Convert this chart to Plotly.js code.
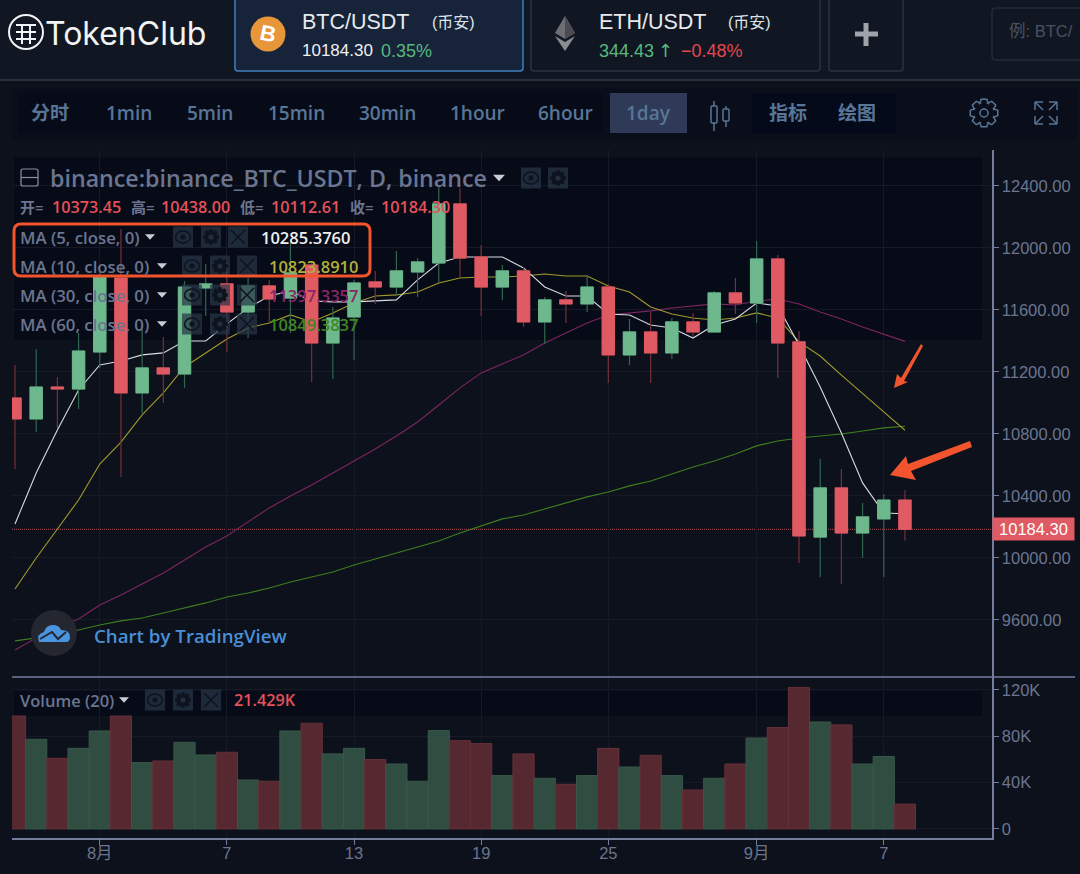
<!DOCTYPE html>
<html>
<head>
<meta charset="utf-8">
<script src="https://cdn.plot.ly/plotly-3.0.1.min.js"></script>
<style>
html, body { margin: 0; padding: 0; background: #0c111b; overflow: hidden; }
#chart { width: 1080px; height: 874px; }
</style>
</head>
<body>
<div id="chart"></div>
<script>
var dates = ["2020-07-28", "2020-07-29", "2020-07-30", "2020-07-31",
    "2020-08-01", "2020-08-02", "2020-08-03", "2020-08-04", "2020-08-05", "2020-08-06", "2020-08-07",
    "2020-08-08", "2020-08-09", "2020-08-10", "2020-08-11", "2020-08-12", "2020-08-13", "2020-08-14",
    "2020-08-15", "2020-08-16", "2020-08-17", "2020-08-18", "2020-08-19", "2020-08-20", "2020-08-21",
    "2020-08-22", "2020-08-23", "2020-08-24", "2020-08-25", "2020-08-26", "2020-08-27", "2020-08-28",
    "2020-08-29", "2020-08-30", "2020-08-31",
    "2020-09-01", "2020-09-02", "2020-09-03", "2020-09-04", "2020-09-05", "2020-09-06", "2020-09-07", "2020-09-08"]
var opens = [11032, 10897, 11103, 11090, 11329, 11806, 11065, 11226, 11187, 11742, 11768, 11587, 11755, 11677, 11890,
    11387, 11555, 11781, 11748, 11845, 11903, 12284, 11942, 11748, 11852, 11523, 11665, 11639, 11748, 11310, 11458,
    11323, 11523, 11458, 11710, 11645, 11929, 11394, 10135, 10452, 10161, 10252, 10373.45]
var highs = [11245, 11348, 11168, 11452, 11845, 12123, 11477, 11426, 11787, 11897, 11910, 11806, 11794, 12032, 11910,
    11619, 11794, 11852, 11981, 11935, 12394, 12387, 12019, 11890, 11877, 11684, 11723, 11826, 11768, 11542, 11587,
    11548, 11581, 11723, 11806, 12045, 11955, 11465, 10639, 10574, 10355, 10413, 10438]
var lows = [10574, 10813, 10839, 10961, 11226, 10523, 10935, 11000, 11097, 11561, 11329, 11419, 11523, 11452, 11135,
    11155, 11277, 11639, 11697, 11684, 11781, 11813, 11561, 11665, 11490, 11381, 11516, 11587, 11129, 11245, 11129,
    11284, 11426, 11455, 11574, 11516, 11161, 9968, 9877, 9832, 10000, 9877, 10112.61]
var closes = [10897, 11103, 11090, 11335, 11813, 11065, 11226, 11187, 11748, 11768, 11587, 11755, 11671, 11839, 11387,
    11548, 11774, 11748, 11852, 11910, 12284, 11935, 11748, 11852, 11523, 11665, 11639, 11748, 11310, 11458, 11323,
    11523, 11458, 11710, 11645, 11929, 11387, 10142, 10452, 10161, 10265, 10373.45, 10184.30]
var ma5 = [10219, 10548, 10826, 11084, 11245, 11271, 11310, 11323, 11400, 11400, 11510, 11613, 11690, 11723, 11658,
    11652, 11652, 11658, 11665, 11794, 11903, 11942, 11942, 11942, 11871, 11748, 11690, 11690, 11574, 11568, 11503,
    11484, 11419, 11503, 11542, 11645, 11626, 11374, 11103, 10806, 10484, 10290, 10285.376]
var ma10 = [9800, 10000, 10187, 10374, 10606, 10748, 10923, 11065, 11232, 11323, 11413, 11484, 11516, 11568, 11523,
    11581, 11645, 11690, 11697, 11716, 11774, 11806, 11813, 11813, 11819, 11832, 11819, 11819, 11755, 11716, 11619,
    11574, 11548, 11535, 11548, 11581, 11548, 11394, 11303, 11180, 11058, 10942, 10823.891]
var ma30 = [9406, 9484, 9548, 9606, 9697, 9761, 9832, 9903, 9987, 10071, 10142, 10232, 10323, 10400, 10471,
    10548, 10626, 10703, 10787, 10877, 10987, 11097, 11194, 11252, 11310, 11387, 11452, 11516, 11568, 11581, 11594,
    11613, 11626, 11639, 11632, 11658, 11671, 11639, 11587, 11542, 11490, 11445, 11397.3357]
var ma60 = [9465, 9484, 9503, 9535, 9568, 9594, 9613, 9645, 9677, 9710, 9748, 9774, 9806, 9845, 9877,
    9910, 9955, 9994, 10032, 10071, 10110, 10161, 10206, 10252, 10277, 10316, 10355, 10394, 10426, 10465, 10497,
    10542, 10587, 10626, 10671, 10723, 10755, 10774, 10787, 10800, 10819, 10839, 10849.3837]
var volumes = [97.4, 77.3, 60.9, 69.5, 84.5, 97.4, 57.2, 58.6, 74.7, 63.8, 66.1, 42.2, 41.1, 84.5, 91.1,
    64.7, 69.5, 59.8, 56, 41.1, 84.8, 76.1, 73.6, 46, 64.7, 43.7, 38.5, 46, 69.5, 53.4, 63.5,
    46, 33.6, 43.7, 56, 78.4, 87.4, 122, 92.2, 89.7, 56, 62.4, 21.429]

var dayTicks = ["2020-08-01", "2020-08-07", "2020-08-13", "2020-08-19", "2020-08-25", "2020-09-01", "2020-09-07"]
var dayLabels = ["8月", "7", "13", "19", "25", "9月", "7"]
var priceTicks = [9600, 10000, 10400, 10800, 11200, 11600, 12000, 12400]
var volumeTicks = [0, 40, 80, 120]
var volumeLabels = ["0", "40K", "80K", "120K"]

var intervals = ["分时", "1min", "5min", "15min", "30min", "1hour", "6hour", "1day"]
var intervalCentres = [50, 129, 210, 296, 387, 477, 565, 648]

var W = 1080, H = 874
var UP = "#6db88d", DOWN = "#e05a64"
var UP_WICK = "#2f6650", DOWN_WICK = "#77303a"
var MUTED = "#6b7590", TOOL = "#587697"
var GRID = "#151a26", AXIS = "#747d9e"
var BUTTON = "#222f3d", GLYPH = "#0d141f"
var SANS = "Liberation Sans, Noto Sans CJK SC, sans-serif"
var SOFT = "Open Sans, Noto Sans CJK SC, sans-serif"

function X(v) { return v / W }
function Y(v) { return 1 - v / H }

function pathOf(cmds) {
    return cmds.map(function (c) {
        var out = c[0]
        for (var i = 1; i < c.length; i += 2) {
            out += " " + X(c[i]).toFixed(5) + " " + Y(c[i + 1]).toFixed(5)
        }
        return out
    }).join(" ")
}

function polygon(points, fill, line) {
    var cmds = points.map(function (p, i) { return [i === 0 ? "M" : "L", p[0], p[1]] })
    cmds.push(["Z"])
    return shapeFromPath(pathOf(cmds), fill, line)
}

function shapeFromPath(path, fill, line, width, layer) {
    return {
        type: "path", xref: "paper", yref: "paper", path: path,
        fillcolor: fill || "rgba(0,0,0,0)",
        line: { color: line || "rgba(0,0,0,0)", width: line ? (width || 1) : 0 },
        layer: layer || "above",
    }
}

function rect(x0, y0, x1, y1, fill, layer) {
    return {
        type: "rect", xref: "paper", yref: "paper",
        x0: X(x0), x1: X(x1), y0: Y(y0), y1: Y(y1),
        fillcolor: fill, line: { width: 0 }, layer: layer || "above",
    }
}

function roundRect(x0, y0, x1, y1, r, fill, line, width, layer) {
    return shapeFromPath(pathOf([
        ["M", x0 + r, y0], ["L", x1 - r, y0], ["Q", x1, y0, x1, y0 + r],
        ["L", x1, y1 - r], ["Q", x1, y1, x1 - r, y1],
        ["L", x0 + r, y1], ["Q", x0, y1, x0, y1 - r],
        ["L", x0, y0 + r], ["Q", x0, y0, x0 + r, y0], ["Z"],
    ]), fill, line, width, layer)
}

function circle(cx, cy, rx, ry, fill, line, width) {
    return {
        type: "circle", xref: "paper", yref: "paper",
        x0: X(cx - rx), x1: X(cx + rx), y0: Y(cy - ry), y1: Y(cy + ry),
        fillcolor: fill || "rgba(0,0,0,0)",
        line: { color: line || "rgba(0,0,0,0)", width: line ? (width || 1) : 0 },
        layer: "above",
    }
}

function seg(x0, y0, x1, y1, color, width) {
    return {
        type: "line", xref: "paper", yref: "paper",
        x0: X(x0), x1: X(x1), y0: Y(y0), y1: Y(y1),
        line: { color: color, width: width || 1 }, layer: "above",
    }
}

function label(text, x, y, size, color, family, anchor, angle, weight) {
    return {
        text: text, xref: "paper", yref: "paper", x: X(x), y: Y(y),
        xanchor: anchor || "left", yanchor: "middle", showarrow: false, borderpad: 0,
        textangle: angle || 0,
        font: { size: size, color: color, family: family || SANS, weight: weight || 400 },
    }
}

// text of the toolbar and legends is a little heavier than regular
function softLabel(text, x, y, size, color, anchor) {
    return label(text, x, y, size, color, SOFT, anchor, 0, 600)
}

// outline of the settings gear, eight teeth
function gearPath(cx, cy, rOut, rIn) {
    var cmds = []
    for (var i = 0; i < 8; i++) {
        var a = i * Math.PI / 4 - Math.PI / 2
        var step = 0.2
        var pts = [[rIn, a - 2 * step], [rOut, a - step], [rOut, a + step], [rIn, a + 2 * step]]
        pts.forEach(function (p, j) {
            cmds.push([(i === 0 && j === 0) ? "M" : "L", cx + p[0] * Math.cos(p[1]), cy + p[0] * Math.sin(p[1])])
        })
    }
    cmds.push(["Z"])
    return pathOf(cmds)
}

var shapes = [], notes = []

// page bands
shapes.push(rect(0, 0, W, 79, "#111722", "below"))
shapes.push(rect(0, 79, W, 81, "#2b303d", "below"))
shapes.push(rect(12, 88, 1077, 140, "#0a0e1a", "below"))
shapes.push(rect(14, 157, 982, 340, "#060b17", "below"))
shapes.push(rect(14, 691, 982, 716, "#060b17", "below"))

// logo
shapes.push(circle(26, 32, 17, 17, null, "#f2f3f5", 2))
shapes.push(seg(16, 25, 36, 25, "#f2f3f5", 2))
shapes.push(seg(16, 32, 36, 32, "#f2f3f5", 2))
shapes.push(seg(16, 39, 36, 39, "#f2f3f5", 2))
shapes.push(seg(22, 25, 22, 44, "#f2f3f5", 2))
shapes.push(seg(30, 25, 30, 44, "#f2f3f5", 2))
notes.push(label("TokenClub", 44, 33, 32, "#f2f3f5", "Inter, " + SANS))

// BTC tab
shapes.push(roundRect(235, -6, 523, 71, 3, "#172338", "#3f7fc0", 1.5))
shapes.push(circle(268, 34, 17.5, 17.5, "#e8963a"))
notes.push(label("<b>B</b>", 268, 34, 22, "#fff", SANS, "center", 12))
notes.push(label("BTC/USDT", 301, 22, 21.5, "#e6e9ee"))
notes.push(label("(币安)", 431, 23, 16, "#dfe3e9"))
notes.push(label("10184.30", 301, 51, 17, "#eef0f3"))
notes.push(label("0.35%", 380, 51, 18, "#56b97f"))

// ETH tab
shapes.push(roundRect(531, -6, 820, 71, 3, "#111722", "#2c323f", 1.5))
shapes.push(polygon([[565, 16], [575, 33], [565, 39], [555, 33]], "#6c6e74"))
shapes.push(polygon([[565, 16], [575, 33], [565, 39]], "#4a4c52"))
shapes.push(polygon([[555, 36], [565, 42], [575, 36], [565, 51]], "#8a8c91"))
notes.push(label("ETH/USDT", 598, 22, 21.5, "#e6e9ee"))
notes.push(label("(币安)", 727, 23, 16, "#dfe3e9"))
notes.push(label("344.43", 598, 51, 18, "#56b97f"))
notes.push(label("↑", 657, 51, 18, "#56b97f", "DejaVu Sans"))
notes.push(label("−0.48%", 680, 51, 18, "#e2474f"))

// plus tab and search box
shapes.push(roundRect(829, -6, 903, 71, 3, "#111722", "#2c323f", 1.5))
shapes.push(seg(855, 34, 878, 34, "#a0a3a9", 5))
shapes.push(seg(866, 23, 866, 46, "#a0a3a9", 5))
shapes.push(roundRect(992, 8, 1100, 60, 3, "#111722", "#2c323f", 1))
notes.push(label("例: BTC/", 1008, 31, 16.5, "#4a5160"))

// interval toolbar
shapes.push(rect(18, 93, 603, 133, "#070b18", "below"))
shapes.push(rect(752, 93, 896, 133, "#050a1b", "below"))
shapes.push(rect(610, 93, 687, 133, "#2e3a57", "below"))
intervals.forEach(function (name, i) {
    notes.push(softLabel(name, intervalCentres[i], 113, 19, TOOL, "center"))
})
notes.push(softLabel("指标", 788, 113, 19, TOOL, "center"))
notes.push(softLabel("绘图", 857, 113, 19, TOOL, "center"))

// candle type icon
shapes.push(roundRect(711, 106, 717, 123, 1, null, TOOL, 1.5))
shapes.push(seg(714, 101, 714, 106, TOOL, 1.5))
shapes.push(seg(714, 123, 714, 131, TOOL, 1.5))
shapes.push(roundRect(723, 109, 729, 121, 1, null, TOOL, 1.5))
shapes.push(seg(726, 106, 726, 109, TOOL, 1.5))
shapes.push(seg(726, 121, 726, 127, TOOL, 1.5))

// settings and fullscreen icons
shapes.push(shapeFromPath(gearPath(984, 113, 14, 10.5), null, TOOL, 1.5))
shapes.push(circle(984, 113, 4, 4, null, TOOL, 1.5))
var corners = [[1035, 102, 1], [1057, 102, -1]]
corners.forEach(function (c) {
    shapes.push(seg(c[0], c[1], c[0] + c[2] * 8, c[1] + 8, TOOL, 1.5))
    shapes.push(seg(c[0], c[1], c[0] + c[2] * 8, c[1], TOOL, 1.5))
    shapes.push(seg(c[0], c[1], c[0], c[1] + 8, TOOL, 1.5))
    shapes.push(seg(c[0], 124, c[0] + c[2] * 8, 116, TOOL, 1.5))
    shapes.push(seg(c[0], 124, c[0] + c[2] * 8, 124, TOOL, 1.5))
    shapes.push(seg(c[0], 124, c[0], 116, TOOL, 1.5))
})

// little eye / gear / close buttons of the legend rows
function legendButtons(xs, y) {
    xs.forEach(function (x, i) {
        shapes.push(rect(x - 10, y - 10.5, x + 10, y + 10.5, "rgba(40,54,70,0.72)"))
        if (i === 0) {
            shapes.push(circle(x, y, 7.5, 6, null, GLYPH, 1.6))
            shapes.push(circle(x, y, 2.6, 2.6, GLYPH))
        } else if (i === 1) {
            shapes.push(shapeFromPath(gearPath(x, y, 8, 6), GLYPH))
            shapes.push(circle(x, y, 2.6, 2.6, BUTTON))
        } else {
            shapes.push(seg(x - 7, y - 7, x + 7, y + 7, GLYPH, 1.6))
            shapes.push(seg(x - 7, y + 7, x + 7, y - 7, GLYPH, 1.6))
        }
    })
}

function triangle(x, y, w, color) {
    shapes.push(polygon([[x - w, y - w * 0.55], [x + w, y - w * 0.55], [x, y + w * 0.55]], color))
}

// legend, main title
shapes.push(roundRect(21, 169, 38, 186, 2, null, "#8a91a4", 1.2))
shapes.push(seg(21, 177.5, 38, 177.5, "#8a91a4", 1.2))
notes.push(softLabel("binance:binance_BTC_USDT, D, binance", 49, 178, 23.2, MUTED))
triangle(499, 178, 6, "#c9ccd3")
legendButtons([531, 558], 178)

// legend, open high low close
var ohlcRow = [["开=", 19, 10373.45, 51], ["高=", 130, 10438.00, 160], ["低=", 239, 10112.61, 270], ["收=", 349, 10184.30, 380]]
ohlcRow.forEach(function (o) {
    notes.push(softLabel(o[0], o[1], 207, 15, MUTED))
    notes.push(softLabel(o[2].toFixed(2), o[3], 207, 16.2, "#e5505a"))
})

// legend, moving averages
var maLegend = [
    ["MA (5, close, 0)", 237, 148, [183, 211, 238], "10285.3760", 351, "#eef0f3"],
    ["MA (10, close, 0)", 266, 160, [192, 220, 247], "10823.8910", 359, "#b3b03a"],
    ["MA (30, close, 0)", 295, 160, [192, 220, 247], "11397.3357", 359, "#8a2569"],
    ["MA (60, close, 0)", 324, 160, [192, 220, 247], "10849.3837", 359, "#41861f"],
]
maLegend.forEach(function (m) {
    notes.push(softLabel(m[0], 19, m[1], 16.8, MUTED))
    triangle(m[2] + 2, m[1], 5, "#c9ccd3")
    legendButtons(m[3], m[1])
    notes.push(softLabel(m[4], m[5], m[1], 16.5, m[6], "right"))
})
shapes.push(roundRect(14, 224, 370, 276, 7, null, "#f2542d", 3))

// volume legend
notes.push(softLabel("Volume (20)", 19, 700, 16.5, MUTED))
triangle(124, 700, 5, "#c9ccd3")
legendButtons([155, 183, 211], 700)
notes.push(softLabel("21.429K", 233, 700, 16.2, "#e5505a"))

// TradingView badge
shapes.push(circle(54, 633, 23, 23, "#24272f"))
shapes.push(shapeFromPath(pathOf([
    ["M", 39, 642], ["Q", 36, 634, 44, 632], ["Q", 46, 625, 53, 625], ["Q", 59, 625, 61, 630],
    ["Q", 70, 630, 70, 637], ["Q", 70, 642, 66, 642], ["Z"],
]), "#4a95e0"))
shapes.push(shapeFromPath(pathOf([["M", 40, 639], ["L", 52, 632], ["L", 58, 639], ["L", 66, 632]]), null, "#24272f", 2))
notes.push(softLabel("Chart by TradingView", 93, 635, 18.7, "#4a8fd8"))

// the two orange arrows drawn on the screenshot
shapes.push(polygon([[894, 388], [897, 374], [901, 378], [921, 344], [923, 346], [904, 381], [908, 382]], "#f2542d"))
shapes.push(polygon([[890, 475], [906, 456], [908, 464], [970, 441], [972, 447], [911, 471], [916, 480]], "#f2542d"))

// panel divider
shapes.push(seg(12, 677, 1075, 677, AXIS, 1.5))

// last price line and tag, both follow the data
var lastClose = closes[closes.length - 1]
shapes.push({
    type: "line", xref: "paper", yref: "y",
    x0: X(12), x1: X(992), y0: lastClose, y1: lastClose,
    line: { color: "#93404a", width: 1.2, dash: "1px,1px" }, layer: "below",
})
notes.push({
    text: lastClose.toFixed(2), xref: "paper", yref: "y", x: X(992), y: lastClose,
    xanchor: "left", yanchor: "middle", showarrow: false,
    width: 81, height: 22, bgcolor: DOWN, align: "center", borderpad: 0,
    font: { size: 16.5, color: "#fff", family: SANS },
})

var volumeColors = closes.map(function (c, i) { return c >= opens[i] ? "#2f4d41" : "#562930" })
var volumeEdges = closes.map(function (c, i) { return c >= opens[i] ? "#38594b" : "#673039" })
var bodyHighs = closes.map(function (c, i) { return Math.max(c, opens[i]) })
var bodyLows = closes.map(function (c, i) { return Math.min(c, opens[i]) })

function maTrace(values, color) {
    return {
        type: "scatter", mode: "lines", x: dates, y: values,
        line: { color: color, width: 1.1 }, hoverinfo: "skip", xaxis: "x", yaxis: "y",
    }
}

var traces = [
    maTrace(ma60, "#3f7f1f"),
    maTrace(ma30, "#7f2560"),
    maTrace(ma10, "#a39a2c"),
    maTrace(ma5, "#d8dbe0"),
    // wicks
    {
        type: "candlestick", x: dates, open: opens, high: highs, low: lows, close: closes,
        increasing: { line: { color: UP_WICK, width: 1.2 }, fillcolor: UP_WICK },
        decreasing: { line: { color: DOWN_WICK, width: 1.2 }, fillcolor: DOWN_WICK },
        hoverinfo: "skip", xaxis: "x", yaxis: "y3",
    },
    // bodies on top of the wicks, the wick colour is darker than the fill
    {
        type: "candlestick", x: dates, open: opens, high: bodyHighs, low: bodyLows, close: closes,
        increasing: { line: { color: UP, width: 1 }, fillcolor: UP },
        decreasing: { line: { color: DOWN, width: 1 }, fillcolor: DOWN },
        hoverinfo: "skip", xaxis: "x", yaxis: "y3",
    },
    {
        type: "bar", x: dates, y: volumes,
        marker: { color: volumeColors, line: { color: volumeEdges, width: 1 } },
        hoverinfo: "skip", xaxis: "x", yaxis: "y2",
    },
]

var priceRange = [9232, 12632]
var tickFont = { size: 16.5, color: MUTED, family: SANS }

Plotly.newPlot(
    document.getElementById("chart"),
    traces,
    {
        width: W,
        height: H,
        margin: { t: 0, l: 0, r: 0, b: 0 },
        paper_bgcolor: "#0c111b",
        plot_bgcolor: "rgba(0,0,0,0)",
        showlegend: false,
        hovermode: false,
        bargap: 0,
        boxgap: 0.17,
        xaxis: {
            type: "date",
            domain: [X(12), X(992)],
            anchor: "y2",
            range: ["2020-07-27T20:36", "2020-09-12T02:36"],
            rangeslider: { visible: false },
            tickmode: "array",
            tickvals: dayTicks,
            ticktext: dayLabels,
            ticks: "outside",
            ticklen: 5,
            tickcolor: AXIS,
            ticklabelstandoff: -5,
            showgrid: true,
            gridcolor: GRID,
            showline: true,
            linecolor: AXIS,
            linewidth: 1.5,
            zeroline: false,
            tickfont: tickFont,
        },
        yaxis: {
            domain: [Y(677), Y(150)],
            side: "right",
            anchor: "x",
            range: priceRange,
            tickmode: "array",
            tickvals: priceTicks,
            tickformat: ".2f",
            ticks: "outside",
            ticklen: 5,
            tickcolor: AXIS,
            showgrid: true,
            gridcolor: GRID,
            showline: true,
            linecolor: AXIS,
            linewidth: 1.5,
            zeroline: false,
            tickfont: tickFont,
        },
        yaxis3: {
            overlaying: "y",
            side: "right",
            anchor: "x",
            range: priceRange,
            visible: false,
        },
        yaxis2: {
            domain: [Y(838), Y(677)],
            side: "right",
            anchor: "x",
            range: [-7.8, 131],
            tickmode: "array",
            tickvals: volumeTicks,
            ticktext: volumeLabels,
            ticks: "outside",
            ticklen: 5,
            tickcolor: AXIS,
            showgrid: true,
            gridcolor: GRID,
            showline: true,
            linecolor: AXIS,
            linewidth: 1.5,
            zeroline: false,
            tickfont: tickFont,
        },
        shapes: shapes,
        annotations: notes,
    },
    { displayModeBar: false, staticPlot: true }
)
</script>
</body>
</html>
